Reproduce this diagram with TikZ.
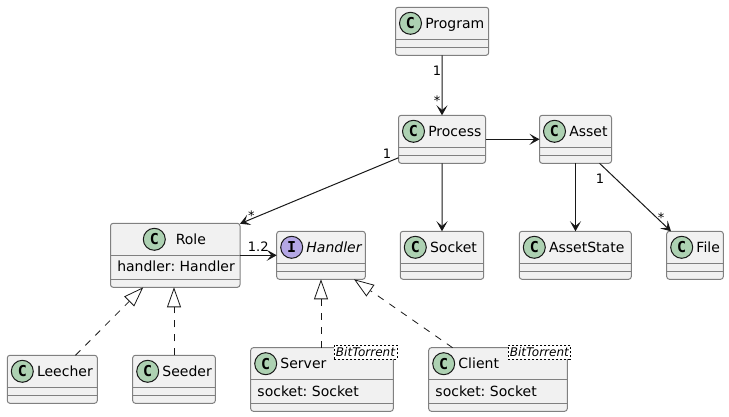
\documentclass[tikz,border=0pt]{standalone}
\usepackage{fontspec}
\setmainfont{DejaVu Sans}
\newfontfamily\spotfont{DejaVu Sans Mono}
\usetikzlibrary{arrows.meta,positioning,shapes,calc}
\frenchspacing

\definecolor{boxfill}{HTML}{F1F1F1}
\definecolor{boxline}{HTML}{808080}
\definecolor{classspot}{HTML}{ADD1B2}
\definecolor{ifacespot}{HTML}{B4A7E5}
\definecolor{inkline}{HTML}{181818}

% box with its two separators: name, left, top, width, height, sep1, sep2
\newcommand{\umlbox}[7]{
    \node[classbox,minimum width=#4*0.75pt,minimum height=#5*0.75pt] (#1) at (#2,#3) {};
    \draw[boxsep] ($(#1.north west)+(0,#6)$) -- ($(#1.north east)+(0,#6)$);
    \draw[boxsep] ($(#1.north west)+(0,#7)$) -- ($(#1.north east)+(0,#7)$);
}
% spot and title: name, spot style, letter, spot dx, title dx, title
\newcommand{\umlhead}[6]{
    \node[#2] (#1spot) at ($(#1.north west)+(#4,16)$) {#3};
    \node[title] (#1title) at ($(#1.north west)+(#5,21)$) {#6};
}

\begin{document}
\begin{tikzpicture}[x=0.75pt,y=-0.75pt,
  classbox/.style={draw=boxline,fill=boxfill,line width=.75pt,rounded corners=2pt,anchor=north west,inner sep=0,outer sep=0},
  boxsep/.style={draw=boxline,line width=.75pt},
  spot/.style={circle,draw=inkline,line width=.75pt,minimum size=16.5pt,inner sep=0,font=\spotfont\bfseries\fontsize{11.25}{12}\selectfont},
  cspot/.style={spot,fill=classspot},
  ispot/.style={spot,fill=ifacespot},
  title/.style={anchor=base west,inner sep=0,font=\fontsize{10.5}{12}\selectfont},
  member/.style={title},
  tagbox/.style={draw=black,dash pattern=on 1.5pt off 1.5pt,line width=.5pt,fill=white,inner sep=0,minimum height=10.5pt,font=\itshape\fontsize{9}{10}\selectfont},
  lbl/.style={inner sep=0,font=\fontsize{9.75}{11}\selectfont},
  to/.style={draw=inkline,line width=.75pt,-{Stealth[length=7.5pt,width=8.25pt,inset=3.5pt]}},
  impl/.style={draw=inkline,line width=.6pt,dash pattern=on 5.25pt off 5.25pt,-{Triangle[open,fill=white,length=15pt,width=10.5pt]}}]

    \useasboundingbox (0,0) rectangle (729,417);

    \foreach \cname/\cx/\cy/\cw/\ctitle in {
        program/395.5/7.3/93.2/Program,
        process/398.5/115.3/87/Process,
        asset/539.5/115.3/72/Asset,
        leecher/7.3/355.3/90/Leecher,
        seeder/132.7/355.3/82.6/Seeder,
        socket/400.3/231.3/83.4/Socket,
        assetstate/519.3/231.3/112/AssetState,
        file/666.7/231.3/56.6/File}{
        \umlbox{\cname}{\cx}{\cy}{\cw}{48}{32}{40}
        \umlhead{\cname}{cspot}{C}{15}{29.5}{\ctitle}
    }

    \umlbox{role}{110.5}{223.3}{129.5}{64}{32}{56}
    \umlhead{role}{cspot}{C}{43.8}{65}{Role}
    \node[member] (rolefield) at ($(role.north west)+(6.5,48.7)$) {handler: Handler};

    \umlbox{handler}{276.7}{231.3}{88.6}{48}{32}{40}
    \umlhead{handler}{ispot}{\textbf{I}}{15}{29.5}{\itshape Handler}

    \umlbox{server}{250.7}{347.7}{142.6}{63.6}{31.6}{55.6}
    \umlhead{server}{cspot}{C}{15}{29.5}{Server}
    \node[member] (serverfield) at ($(server.north west)+(6.5,48.3)$) {socket: Socket};
    \node[tagbox,minimum width=63*0.75pt] (servertag) at (365.5,352) {BitTorrent};

    \umlbox{client}{428.7}{347.7}{138.6}{63.6}{31.6}{55.6}
    \umlhead{client}{cspot}{C}{15}{29.5}{Client}
    \node[member] (clientfield) at ($(client.north west)+(6.5,48.3)$) {socket: Socket};
    \node[tagbox,minimum width=62*0.75pt] (clienttag) at (539.3,352) {BitTorrent};

    \draw[to] (program) -- (process);
    \draw[to] (process) -- (asset);
    \draw[to] (process) -- (socket);
    \draw[to] (asset.south) -- (asset.south |- assetstate.north);
    \draw[to] (process.203) -- (role.26);
    \draw[to] (asset.315) -- (file.135);
    \draw[to] (role) -- (handler);
    \draw[impl] (leecher.46.6) -- (role.225.3);
    \draw[impl] (seeder.north) -- (seeder.north |- role.south);
    \draw[impl] (server.north -| handler.south) -- (handler.south);
    \draw[impl] (client.145) -- (handler.324);

    \node[lbl] (programone) at (437,70.7) {1};
    \node[lbl] (processstar) at (437,100.5) {*};
    \node[lbl] (processone) at (387,153.7) {1};
    \node[lbl] (rolestar) at (251.3,216) {*};
    \node[lbl] (roleone) at (258.3,246.7) {1.2};
    \node[lbl] (assetone) at (600,179) {1};
    \node[lbl] (filestar) at (661,218) {*};
\end{tikzpicture}
\end{document}
